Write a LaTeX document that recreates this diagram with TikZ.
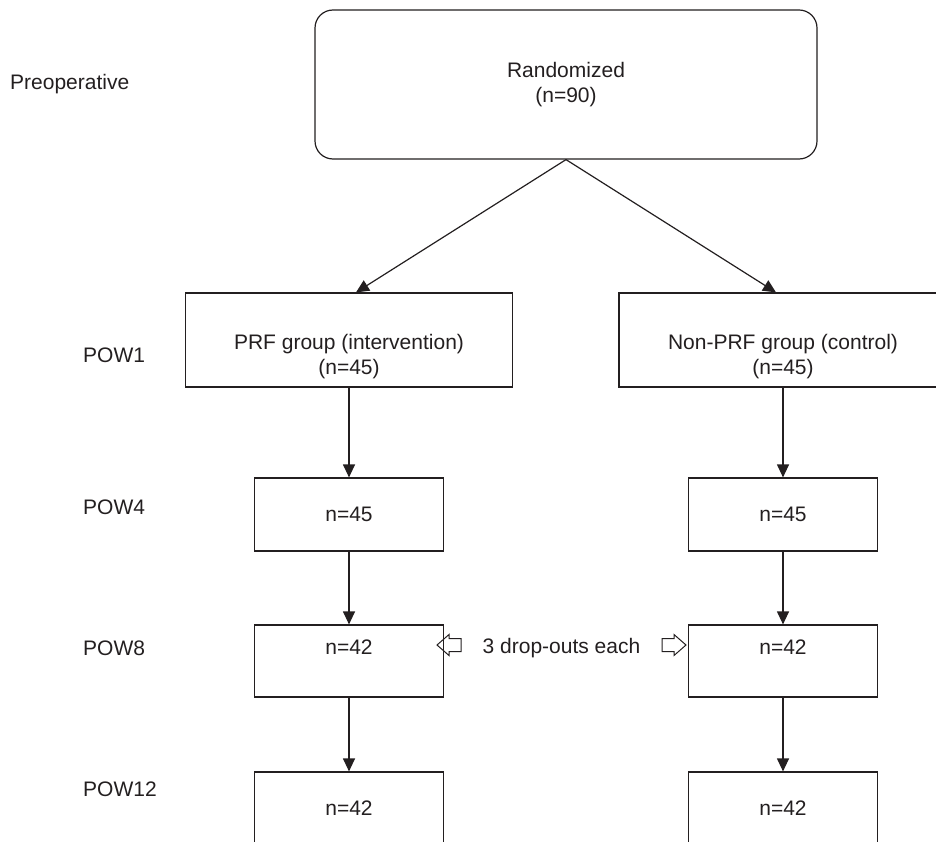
\documentclass[tikz,border=0pt]{standalone}
\usepackage{fontspec}
\setmainfont{Liberation Sans}
\usepackage{xcolor}
\usetikzlibrary{arrows.meta}

\begin{document}
\begin{tikzpicture}[
  x=1pt,y=-1pt,
  box/.style={draw=ink,line width=1.2pt,fill=white,inner sep=0pt},
  lbl/.style={text=ink,align=center,inner sep=0pt,font=\fontsize{21}{25}\selectfont},
  arr/.style={draw=ink,line width=1.2pt,-{Triangle[length=13pt,width=12pt]}},
  hollow/.style={draw=ink,line width=1pt,line join=miter}]

  \definecolor{ink}{HTML}{231F20}

  \useasboundingbox (0,0) rectangle (936,842);
  \clip (0,0) rectangle (936,842);

  % ------------------- time points ----------------------
  \node[lbl,anchor=west] (preop) at (10,84) {Preoperative};
  \foreach \w/\y in {1/355,4/507,8/648,12/789} {
    \node[lbl,anchor=west] (pow\w) at (83,\y) {POW\w};
  }

  % ------------------- blocks ----------------------
  \node[box,lbl,rounded corners=18pt,minimum width=502pt,minimum height=149pt] (rand) at (566,84.5) {Randomized\\(n=90)};

  \node[box,minimum width=327pt,minimum height=94pt] (prf) at (349,340) {};
  \node[lbl] (prftxt) at (349,357) {PRF group (intervention)\\(n=45)};

  \node[box,minimum width=328pt,minimum height=94pt] (ctl) at (783,340) {};
  \node[lbl] (ctltxt) at (783,357) {Non-PRF group (control)\\(n=45)};

  \foreach \col/\cx in {prf/349,ctl/783} {
    \node[box,lbl,minimum width=189pt,minimum height=73pt] (\col4) at (\cx,514.5) {n=45};
    \node[box,minimum width=189pt,minimum height=72pt] (\col8) at (\cx,661) {};
    \node[lbl] (\col8txt) at (\cx,647) {n=42};
    \node[box,lbl,minimum width=189pt,minimum height=73pt] (\col12) at (\cx,808.5) {n=42};

    \draw[arr] (\col.south) -- (\col4.north);
    \draw[arr] (\col4.south) -- (\col8.north);
    \draw[arr] (\col8.south) -- (\col12.north);
  }

  % ---------------------------------------------------------
  \draw[arr] (rand.south) -- ([xshift=7pt]prf.north);
  \draw[arr] (rand.south) -- ([xshift=-7pt]ctl.north);

  % ---------------------------------------------------------
  \node[lbl] (drops) at (561.5,648) {3 drop-outs each};
  \draw[hollow] (437,645) -- (449,634.5) -- (449,638.5) -- (461,638.5)
    -- (461,651.5) -- (449,651.5) -- (449,655.5) -- cycle;
  \draw[hollow] (686,645) -- (674,634.5) -- (674,638.5) -- (662,638.5)
    -- (662,651.5) -- (674,651.5) -- (674,655.5) -- cycle;
\end{tikzpicture}
\end{document}
